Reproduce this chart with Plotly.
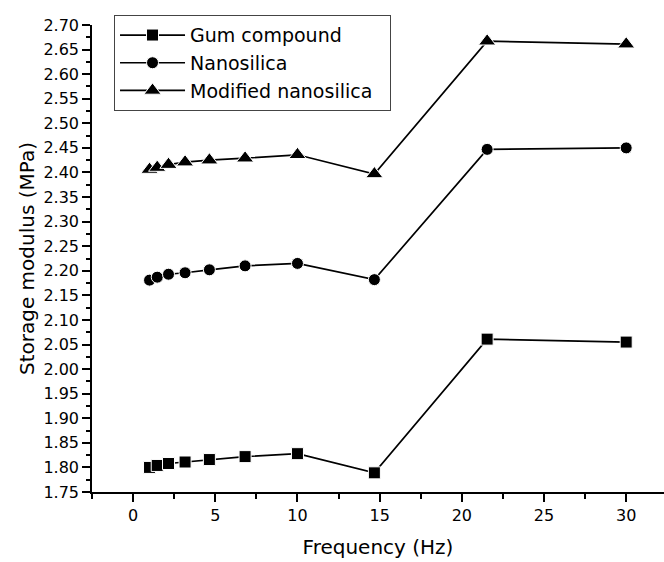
import plotly.graph_objects as go

freq = [1.0, 1.468, 2.154, 3.162, 4.642, 6.813, 10.0, 14.68, 21.54, 30.0]
gum = [1.800, 1.804, 1.808, 1.811, 1.816, 1.822, 1.828, 1.789, 2.061, 2.055]
nano = [2.181, 2.187, 2.193, 2.196, 2.202, 2.210, 2.215, 2.182, 2.447, 2.450]
modnano = [2.406, 2.410, 2.416, 2.421, 2.425, 2.429, 2.436, 2.397, 2.667, 2.661]

names = ["Gum compound", "Nanosilica", "Modified nanosilica\u00a0\u00a0"]
series = [gum, nano, modnano]
symbols = ["square", "circle", "triangle-up"]
sizes = [12, 12, 15]

FONT = "DejaVu Sans, Liberation Sans, Arial, sans-serif"

fig = go.Figure()
for name, vals, sym, sz in zip(names, series, symbols, sizes):
    fig.add_trace(go.Scatter(
        x=freq, y=vals, name=name, mode="lines+markers",
        line=dict(color="black", width=1.7),
        marker=dict(symbol=sym, size=sz, color="black",
                    line=dict(color="white", width=1)),
    ))

fig.update_layout(
    width=664, height=562,
    margin=dict(l=92, r=0, t=25, b=70),
    paper_bgcolor="white", plot_bgcolor="white",
    font=dict(family=FONT, color="black", size=16),
    showlegend=True,
    legend=dict(
        x=0.0385, y=1.021, xanchor="left", yanchor="top",
        bordercolor="#444", borderwidth=1, bgcolor="white",
        font=dict(size=19, family=FONT, color="black"),
        itemwidth=65, tracegroupgap=0,
    ),
)
fig.update_xaxes(
    range=[-2.5, 32.3], showgrid=False, zeroline=False,
    showline=True, linecolor="black", linewidth=1.5,
    ticks="outside", ticklen=8, tickwidth=1.5, tickcolor="black",
    tickmode="linear", tick0=0, dtick=5,
    minor=dict(ticks="outside", ticklen=5, tickwidth=1.5, tickcolor="black", dtick=2.5, tick0=0),
    title=dict(text="Frequency (Hz)", font=dict(size=20, family=FONT), standoff=16),
    tickfont=dict(size=16),
)
fig.update_yaxes(
    range=[1.75, 2.70], showgrid=False, zeroline=False,
    showline=True, linecolor="black", linewidth=1.5,
    ticks="outside", ticklen=8, tickwidth=1.5, tickcolor="black",
    tickmode="linear", tick0=1.75, dtick=0.05, tickformat=".2f",
    minor=dict(ticks="outside", ticklen=4, tickwidth=1.5, tickcolor="black", dtick=0.025, tick0=1.75),
    title=dict(text="Storage modulus (MPa)", font=dict(size=20, family=FONT), standoff=3),
    tickfont=dict(size=16),
)

fig.write_html("out.html")
